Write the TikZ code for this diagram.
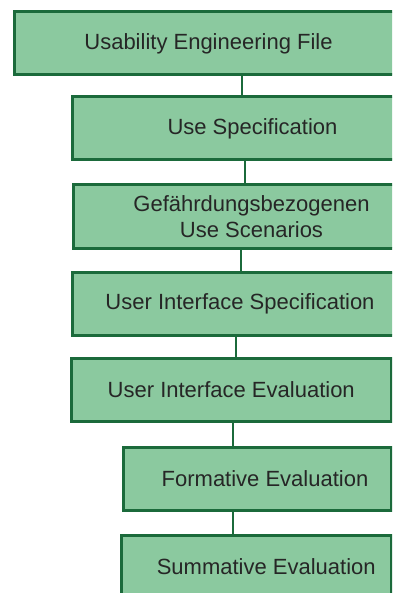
\documentclass[tikz,border=0pt]{standalone}
\usepackage{fontspec}
\setmainfont{Liberation Sans}
\usepackage{tikz}
\usetikzlibrary{positioning}

\definecolor{boxfill}{HTML}{8BC99F}
\definecolor{boxline}{HTML}{1B6A3B}
\definecolor{boxtext}{HTML}{262626}

\tikzset{
    docbox/.style={draw=boxline, line width=3pt, fill=boxfill, anchor=north west,
        minimum height=63pt, inner sep=0pt, align=center, text=boxtext,
        font=\fontsize{22}{26}\selectfont},
    link/.style={draw=boxline, line width=2pt}
}

\begin{document}
\begin{tikzpicture}[x=1pt, y=-1pt]
    \useasboundingbox (0,0) rectangle (392,593);
    \clip (0,0) rectangle (392,593);

    % Boxes
    \node[docbox, minimum width=389pt] (ufile) at (12.5,10.5) {Usability Engineering File};
    \node[docbox, minimum width=361pt] (usespec) at (70.5,95.5) {Use Specification};
    \node[docbox, minimum width=357pt] (scen) at (71.5,183.5) {Gefährdungsbezogenen\\Use Scenarios};
    \node[docbox, minimum width=336pt] (uispec) at (70.5,270.5) {User Interface Specification};
    \node[docbox, minimum width=319.5pt] (uieval) at (70,356.5) {User Interface Evaluation};
    \node[docbox, minimum width=268pt] (formeval) at (121.5,445.5) {\hspace*{16pt}Formative Evaluation};
    \node[docbox, minimum width=269.5pt] (sumeval) at (120,533.5) {\hspace*{20pt}Summative Evaluation};

    % Connectors
    \foreach \a/\b/\x in {ufile/usespec/242, usespec/scen/245, scen/uispec/241,
                          uispec/uieval/236, uieval/formeval/233, formeval/sumeval/233} {
        \draw[link] (\a.south -| \x,0) -- (\b.north -| \x,0);
    }
\end{tikzpicture}
\end{document}
